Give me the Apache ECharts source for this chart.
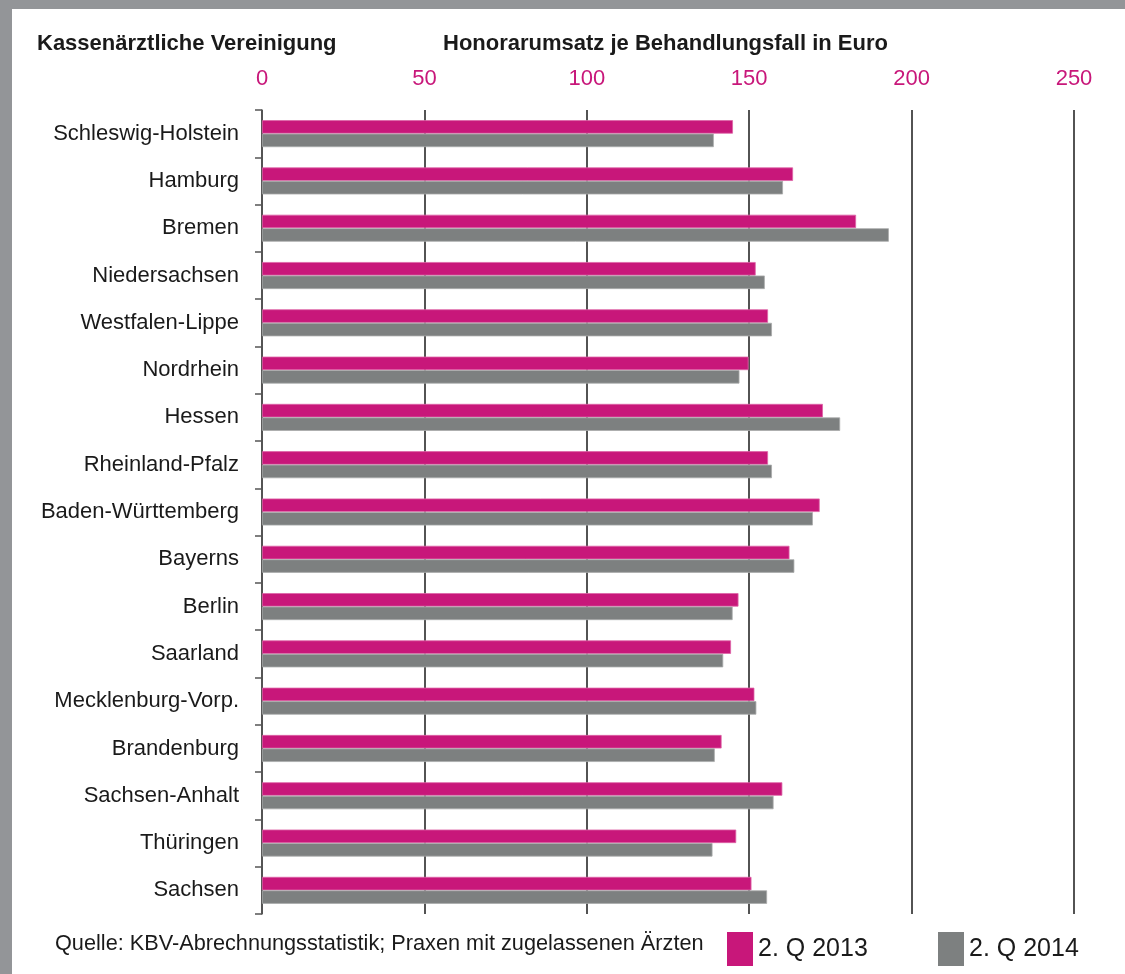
<!DOCTYPE html>
<html>
<head>
<meta charset="utf-8">
<script src="https://cdn.jsdelivr.net/npm/echarts@6/dist/echarts.min.js"></script>
<style>
html,body{margin:0;padding:0;background:#fff;}
#c{width:1125px;height:974px;}
</style>
</head>
<body>
<div id="c"></div>
<script>
const categories = ["Schleswig-Holstein","Hamburg","Bremen","Niedersachsen","Westfalen-Lippe","Nordrhein","Hessen","Rheinland-Pfalz","Baden-Württemberg","Bayerns","Berlin","Saarland","Mecklenburg-Vorp.","Brandenburg","Sachsen-Anhalt","Thüringen","Sachsen"];
const q2013 = [145.0,163.5,182.9,152.0,155.8,149.8,172.7,155.8,171.7,162.4,146.7,144.4,151.6,141.5,160.2,146.0,150.7];
const q2014 = [139.1,160.4,193.0,154.8,157.0,147.0,178.0,157.0,169.6,163.9,144.9,142.0,152.2,139.4,157.5,138.7,155.5];
const seriesNames = ["2. Q 2013","2. Q 2014"];
const xTicks = [0,50,100,150,200,250];

const FONT = "'Liberation Sans', Arial, sans-serif";
const PINK = '#c8177a';
const GREY = '#7d8080';

const legendBase = {
  top:927, itemWidth:26, itemHeight:34, icon:'rect', itemGap:0,
  itemStyle:{borderWidth:0},
  textStyle:{fontSize:25, color:'#1a1a1a', fontFamily:FONT}
};

const chart = echarts.init(document.getElementById('c'), null, {renderer:'canvas'});
chart.setOption({
  backgroundColor:'#fff',
  animation:false,
  textStyle:{fontFamily:FONT},
  grid:{left:262,right:51,top:110,bottom:60,containLabel:false},
  xAxis:{
    type:'value', position:'top', min:xTicks[0], max:xTicks[xTicks.length-1], interval:50,
    axisLine:{show:false}, axisTick:{show:false},
    axisLabel:{color:PINK, fontSize:22, fontFamily:FONT, margin:20},
    splitLine:{show:true, lineStyle:{color:'#1a1a1a', width:1.5}}
  },
  yAxis:{
    type:'category', data:categories, inverse:true,
    axisLine:{show:true, lineStyle:{color:'#555', width:1.5}},
    axisTick:{show:true, length:7, lineStyle:{color:'#555', width:1.5}},
    axisLabel:{color:'#1a1a1a', fontSize:22, fontFamily:FONT, margin:23}
  },
  legend:[
    Object.assign({}, legendBase, {left:722, data:[seriesNames[0]]}),
    Object.assign({}, legendBase, {left:933, data:[seriesNames[1]]})
  ],
  series:[
    {name:seriesNames[0], type:'bar', data:q2013, barWidth:13.5, barGap:'0%',
     itemStyle:{color:PINK, borderColor:'#dd63a6', borderWidth:0.8}},
    {name:seriesNames[1], type:'bar', data:q2014, barWidth:13.5, barGap:'0%',
     itemStyle:{color:GREY, borderColor:'#a9abab', borderWidth:0.8}}
  ],
  graphic:[
    {type:'rect', left:0, top:0, shape:{width:12,height:974}, style:{fill:'#939598'}, silent:true},
    {type:'rect', left:0, top:0, shape:{width:1125,height:9}, style:{fill:'#939598'}, silent:true},
    {type:'text', left:37, top:33, style:{text:'Kassenärztliche Vereinigung', fill:'#1a1a1a', font:"bold 22px "+FONT}},
    {type:'text', left:443, top:33, style:{text:'Honorarumsatz je Behandlungsfall in Euro', fill:'#1a1a1a', font:"bold 22px "+FONT}},
    {type:'text', left:55, top:933, style:{text:'Quelle: KBV-Abrechnungsstatistik; Praxen mit zugelassenen Ärzten', fill:'#1a1a1a', font:"21.7px "+FONT}}
  ]
});
</script>
</body>
</html>
